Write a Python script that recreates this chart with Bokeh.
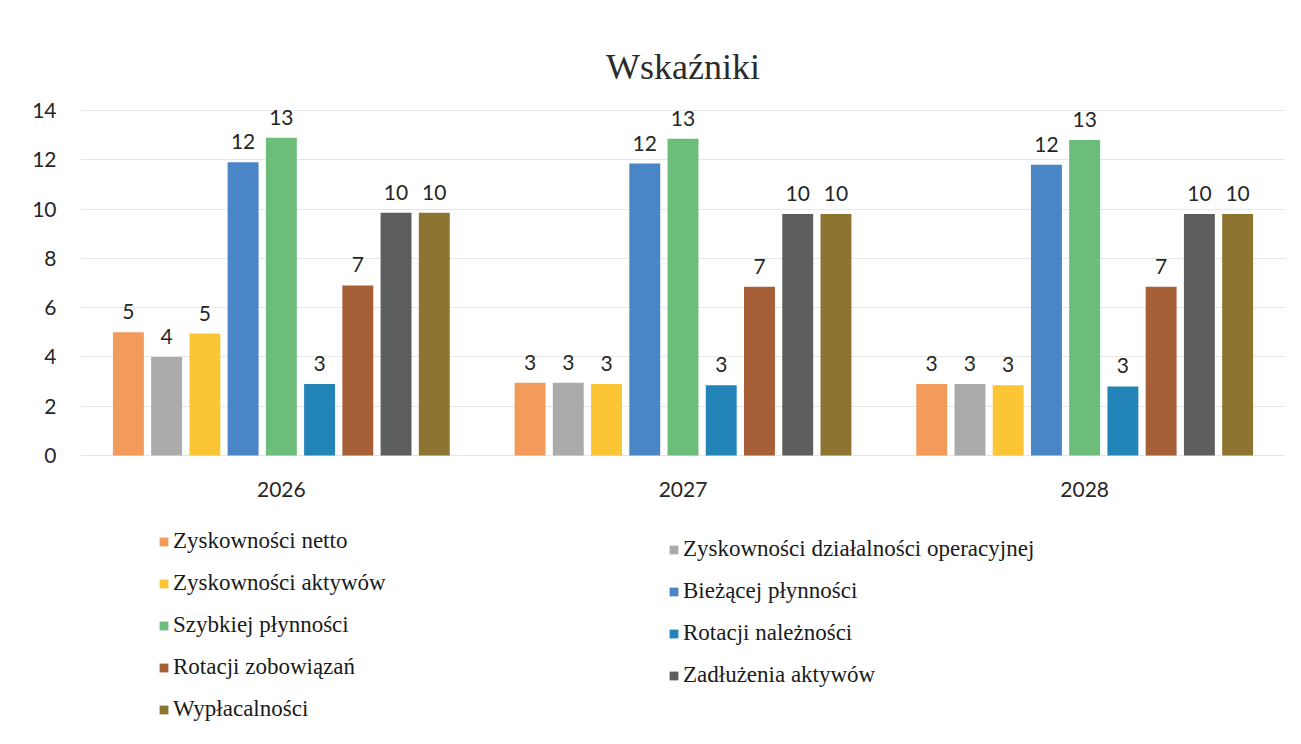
from bokeh.plotting import figure
from bokeh.models import ColumnDataSource, FactorRange, Legend, LegendItem, FixedTicker
from bokeh.transform import dodge
from bokeh.core.properties import value
from bokeh.embed import file_html
from bokeh.resources import INLINE

# ---------------- data ----------------
years = ["2026", "2027", "2028"]

series_names = [
    "Zyskowności netto",
    "Zyskowności działalności operacyjnej",
    "Zyskowności aktywów",
    "Bieżącej płynności",
    "Szybkiej płynności",
    "Rotacji należności",
    "Rotacji zobowiązań",
    "Zadłużenia aktywów",
    "Wypłacalności",
]

zyskownosci_netto = [5.0, 2.95, 2.9]
zyskownosci_operacyjnej = [4.0, 2.95, 2.9]
zyskownosci_aktywow = [4.95, 2.9, 2.85]
biezacej_plynnosci = [11.9, 11.85, 11.8]
szybkiej_plynnosci = [12.9, 12.85, 12.8]
rotacji_naleznosci = [2.9, 2.85, 2.8]
rotacji_zobowiazan = [6.9, 6.85, 6.85]
zadluzenia_aktywow = [9.85, 9.8, 9.8]
wyplacalnosci = [9.85, 9.8, 9.8]

series_values = [
    zyskownosci_netto, zyskownosci_operacyjnej, zyskownosci_aktywow,
    biezacej_plynnosci, szybkiej_plynnosci, rotacji_naleznosci,
    rotacji_zobowiazan, zadluzenia_aktywow, wyplacalnosci,
]

colors = ["#F39B5B", "#ABABAB", "#FBC535", "#4A85C6", "#6CBD7A",
          "#2384B8", "#A65F37", "#5C5F5E", "#8E7431"]

y_ticks = [0, 2, 4, 6, 8, 10, 12, 14]

SERIF = "Liberation Serif"
SANS = "Lato"

# ---------------- figure ----------------
p = figure(
    width=1285, height=728,
    x_range=FactorRange(*years, range_padding=0),
    y_range=(-11.04, 14.61),
    output_backend="svg", toolbar_location=None,
    min_border_left=80, min_border_right=0, min_border_top=95, min_border_bottom=1,
    title="Wskaźniki",
)
p.outline_line_color = None
p.background_fill_color = "white"
p.border_fill_color = "white"

p.title.align = "center"
p.title.text_font = SERIF
p.title.text_font_size = "36px"
p.title.text_font_style = "normal"
p.title.text_color = "#2b2b2b"
p.title.standoff = 17

p.xaxis.visible = False
p.xgrid.grid_line_color = None

p.yaxis.ticker = FixedTicker(ticks=y_ticks)
p.yaxis.axis_line_color = None
p.yaxis.major_tick_line_color = None
p.yaxis.minor_tick_line_color = None
p.yaxis.major_label_text_font = SANS
p.yaxis.major_label_text_font_size = "21px"
p.yaxis.major_label_text_color = "#262626"
p.yaxis.major_label_standoff = 18

p.ygrid.ticker = FixedTicker(ticks=y_ticks)
p.ygrid.grid_line_color = "#e6e6e6"
p.ygrid.grid_line_width = 1

n = len(series_names)
pitch = 0.0952
bar_w = 0.077

items = []
for i, (name, vals, col) in enumerate(zip(series_names, series_values, colors)):
    src = ColumnDataSource(dict(
        year=years,
        val=vals,
        lab=[f"{round(v):.0f}" for v in vals],
    ))
    off = (i - (n - 1) / 2) * pitch
    r = p.vbar(x=dodge("year", off, range=p.x_range), top="val", bottom=0,
               width=bar_w, source=src, fill_color=col, line_color=None)
    p.text(x=dodge("year", off, range=p.x_range), y="val", text="lab", source=src,
           text_align="center", text_baseline="bottom", y_offset=-13,
           text_font=value(SANS), text_font_size="21px", text_color="#262626")
    items.append(LegendItem(label=name, renderers=[r]))

# category labels
ysrc = ColumnDataSource(dict(year=years))
p.text(x="year", y=-1.4, text="year", source=ysrc, text_align="center",
       text_baseline="middle", text_font=value(SANS), text_font_size="21px",
       text_color="#262626")

def make_legend(its, loc):
    lg = Legend(items=its, location=loc, orientation="vertical")
    lg.label_text_font = SERIF
    lg.label_text_font_size = "23px"
    lg.label_text_color = "#1a1a1a"
    lg.background_fill_alpha = 0
    lg.border_line_alpha = 0
    lg.padding = 0
    lg.margin = 0
    lg.spacing = 16
    lg.label_standoff = 4
    lg.label_height = 22
    lg.glyph_height = 11
    lg.glyph_width = 11
    return lg

left_items = items[0::2]
right_items = items[1::2]
p.add_layout(make_legend(left_items, (78, 5)))
p.add_layout(make_legend(right_items, (588, 39)))

open("out.html", "w").write(file_html(p, INLINE))
